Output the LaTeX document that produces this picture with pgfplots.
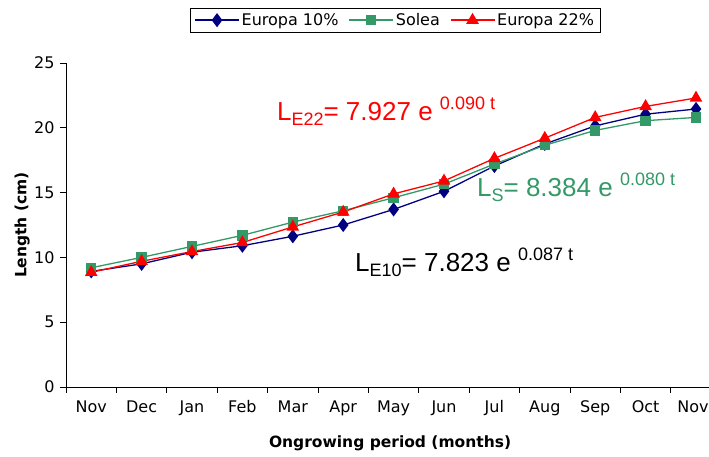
\documentclass[border=0pt]{standalone}
\usepackage{fontspec}
\setmainfont{DejaVu Sans}
\newfontfamily\eqfont{Liberation Sans}
\usepackage{pgfplots}
\pgfplotsset{compat=1.18}

\definecolor{eunavy}{HTML}{000080}
\definecolor{solgreen}{HTML}{339966}
\definecolor{eured}{HTML}{FF0000}

% fitted growth equations, written like the spreadsheet labels
\newcommand{\fitlabel}[3]{{\eqfont\fontsize{26}{26}\selectfont
  L\raisebox{-5pt}{\fontsize{18}{18}\selectfont #1}= #2 e \raisebox{11pt}{\fontsize{18}{18}\selectfont #3 t}}}

\begin{document}
\begin{tikzpicture}
  \begin{axis}[
    at={(66pt,70pt)}, anchor=south west,
    scale only axis,
    width=643pt, height=324pt,
    xmin=-0.5, xmax=12.258,
    ymin=0, ymax=25,
    axis x line=bottom, axis y line=left,
    axis line style={-, line width=0.8pt},
    tick align=outside,
    ytick={0,5,...,25},
    xtick={0,...,12},
    xticklabels={Nov,Dec,Jan,Feb,Mar,Apr,May,Jun,Jul,Aug,Sep,Oct,\hspace*{-6pt}Nov},
    major x tick style={draw=none},
    minor xtick={-0.5,0.5,...,12.5},
    minor tick length=6pt, major tick length=6pt,
    tick style={black, line width=0.8pt},
    /pgf/number format/assume math mode=true,
    ticklabel style={font=\fontsize{16}{16}\selectfont},
    yticklabel style={xshift=-2pt},
    xticklabel style={yshift=-4pt},
    xlabel={\bfseries Ongrowing period (months)},
    ylabel={\bfseries Length (cm)},
    label style={font=\fontsize{15.5}{15.5}\selectfont},
    xlabel style={at={(axis description cs:0.504,-0.173)}, anchor=center},
    ylabel style={at={(axis description cs:-0.068,0.5)}, anchor=center, rotate=0},
    legend columns=3,
    legend style={at={(axis description cs:0.512,1.170)}, anchor=north,
      draw=black, line width=0.8pt, font=\fontsize{16}{16}\selectfont,
      inner xsep=4pt, inner ysep=3pt,
      /tikz/every even column/.append style={column sep=8pt}},
    legend image code/.code={
      \draw[#1, mark repeat=2, mark phase=2] plot coordinates {(0pt,0pt) (22pt,0pt) (44pt,0pt)};},
    clip=false,
  ]
    \addplot[eunavy, line width=1.3pt, mark=diamond*, mark size=6pt,
      mark options={solid, fill=eunavy}] coordinates {
      (0,8.92) (1,9.50) (2,10.40) (3,10.90) (4,11.63) (5,12.50) (6,13.70)
      (7,15.10) (8,17.05) (9,18.75) (10,20.15) (11,21.05) (12,21.45)
    };
    \addlegendentry{Europa 10\%}
    \addplot[solgreen, line width=1.3pt, mark=square*, mark size=4.5pt,
      mark options={solid, fill=solgreen}] coordinates {
      (0,9.20) (1,10.00) (2,10.85) (3,11.70) (4,12.72) (5,13.60) (6,14.60)
      (7,15.65) (8,17.20) (9,18.65) (10,19.80) (11,20.55) (12,20.80)
    };
    \addlegendentry{Solea}
    \addplot[eured, line width=1.3pt, mark=triangle*, mark size=6pt,
      mark options={solid, fill=eured}] coordinates {
      (0,8.85) (1,9.70) (2,10.45) (3,11.15) (4,12.35) (5,13.50) (6,14.90)
      (7,15.90) (8,17.64) (9,19.20) (10,20.80) (11,21.65) (12,22.30)
    };
    \addlegendentry{Europa 22\%}

    \node[anchor=base west, inner sep=0pt, text=eured] at (axis cs:3.685,20.6) {\fitlabel{E22}{7.927}{0.090}};
    \node[anchor=base west, inner sep=0pt, text=solgreen] at (axis cs:7.654,14.7) {\fitlabel{S}{8.384}{0.080}};
    \node[anchor=base west, inner sep=0pt, text=black] at (axis cs:5.234,8.95) {\fitlabel{E10}{7.823}{0.087}};
  \end{axis}
  \pgfresetboundingbox
  \path[use as bounding box] (0pt,0pt) rectangle (709pt,457pt);
\end{tikzpicture}
\end{document}
